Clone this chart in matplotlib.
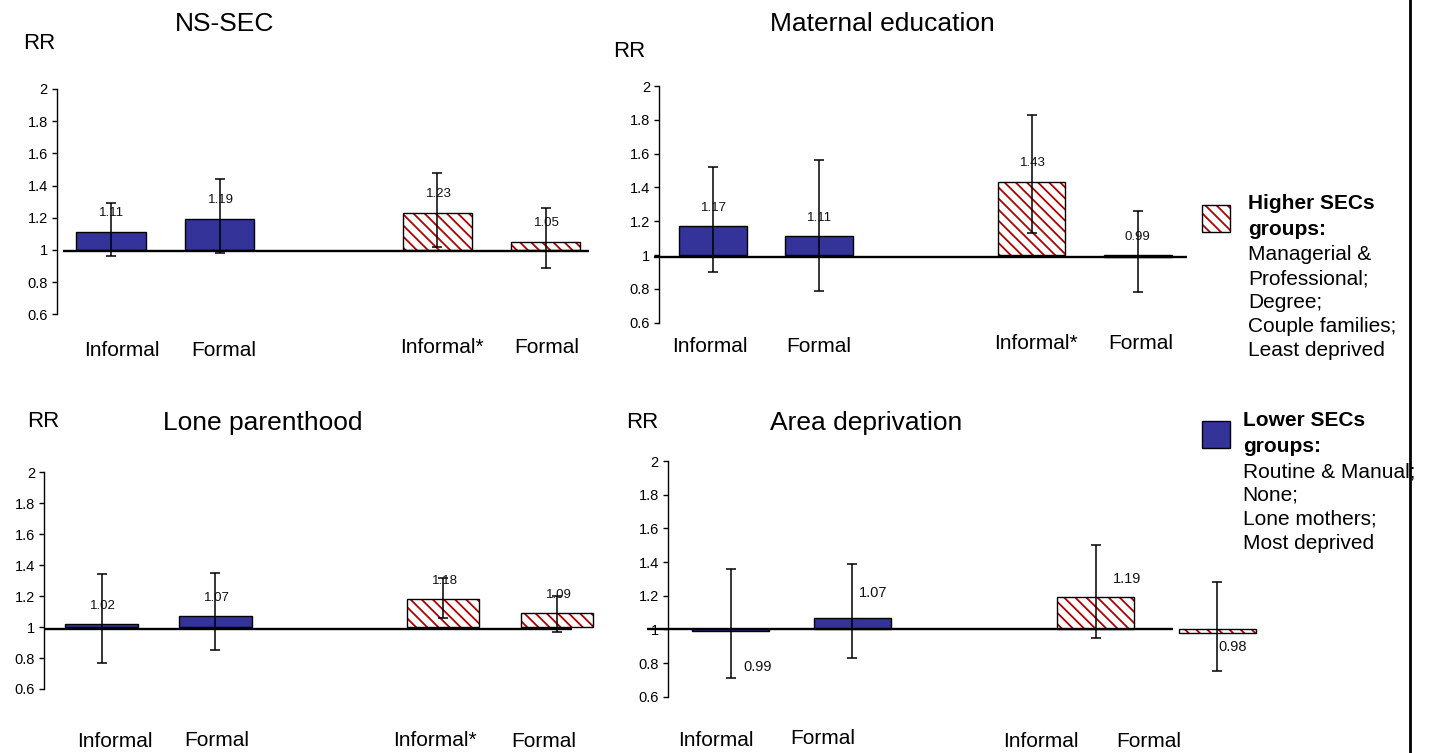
import matplotlib
matplotlib.use('Agg')
import matplotlib.pyplot as plt
from matplotlib.patches import Rectangle
from matplotlib.lines import Line2D
import matplotlib.transforms as mtransforms

plt.rcParams['font.family'] = ['Liberation Sans', 'DejaVu Sans']
plt.rcParams['hatch.linewidth'] = 1.3

# ---------------- data ----------------
panel_titles = ['NS-SEC', 'Maternal education', 'Lone parenthood', 'Area deprivation']
category_labels = [
    ['Informal', 'Formal', 'Informal*', 'Formal'],
    ['Informal', 'Formal', 'Informal*', 'Formal'],
    ['Informal', 'Formal', 'Informal*', 'Formal'],
    ['Informal', 'Formal', 'Informal', 'Formal'],
]
positions = [0, 1, 3, 4]
groups = ['Lower', 'Lower', 'Higher', 'Higher']

rr_nssec = [1.11, 1.19, 1.23, 1.05]
lo_nssec = [0.96, 0.98, 1.02, 0.89]
hi_nssec = [1.29, 1.44, 1.48, 1.26]

rr_mated = [1.17, 1.11, 1.43, 0.99]
lo_mated = [0.90, 0.79, 1.13, 0.78]
hi_mated = [1.52, 1.56, 1.83, 1.26]

rr_lone = [1.02, 1.07, 1.18, 1.09]
lo_lone = [0.77, 0.85, 1.06, 0.97]
hi_lone = [1.34, 1.35, 1.32, 1.20]

rr_area = [0.99, 1.07, 1.19, 0.98]
lo_area = [0.71, 0.83, 0.95, 0.75]
hi_area = [1.36, 1.39, 1.50, 1.28]

yticks = [0.6, 0.8, 1, 1.2, 1.4, 1.6, 1.8, 2]
ytick_labels = ['0.6', '0.8', '1', '1.2', '1.4', '1.6', '1.8', '2']
y_label = 'RR'

legend_higher = [('Higher SECs', 'bold'), ('groups:', 'bold'), ('Managerial &', 'normal'),
                 ('Professional;', 'normal'), ('Degree;', 'normal'),
                 ('Couple families;', 'normal'), ('Least deprived', 'normal')]
legend_lower = [('Lower SECs', 'bold'), ('groups:', 'bold'), ('Routine & Manual;', 'normal'),
                ('None;', 'normal'), ('Lone mothers;', 'normal'), ('Most deprived', 'normal')]

series = [(rr_nssec, lo_nssec, hi_nssec), (rr_mated, lo_mated, hi_mated),
          (rr_lone, lo_lone, hi_lone), (rr_area, lo_area, hi_area)]

# ---------------- layout (pixels) ----------------
W, H, DPI = 1432, 753, 100
BLUE = '#333399'
RED = '#B00000'
HATCH = '\\\\\\'

layouts = [
    dict(axis_x=56.7, y2=89, y06=314.3, c0=111, unit=108.7, right=600,
         base=(62.7, 589, 1.0), title_xy=(224.8, 24), rr_xy=(23.3, 43.3),
         cat_dx=[10.8, 4.2, 4.7, 1.3], cat_y=[350.7, 350.7, 347.3, 347.3],
         val_off=[(0.7, 19), (1.7, 19), (1.7, 18.5), (1, 18.5)], val_fs=9.5),
    dict(axis_x=659, y2=86, y06=322.7, c0=713, unit=106.2, right=1195,
         base=(654.3, 1186.7, 2.3), title_xy=(882.5, 24), rr_xy=(613.3, 51.7),
         cat_dx=[-3, 0, 4, 2.8], cat_y=[346.7, 346.7, 343.3, 343.3],
         val_off=[(1, 18.6), (0.8, 18.1), (1, 19.6), (0, 18.3)], val_fs=9.5),
    dict(axis_x=44, y2=472.3, y06=689, c0=101.5, unit=113.9, right=600,
         base=(45, 571.7, 2.0), title_xy=(262.7, 423.3), rr_xy=(27.3, 421.7),
         cat_dx=[13, 1.3, -8.7, -13], cat_y=[741.7, 740, 740, 741.7],
         val_off=[(1.8, 17.6), (1.6, 18.2), (1.6, 17.8), (2.2, 17.8)], val_fs=9.5),
    dict(axis_x=667.7, y2=461, y06=696.7, c0=730.5, unit=121.7, right=1260,
         base=(646.7, 1173.3, 0.0), title_xy=(866, 423.3), rr_xy=(626, 422.7),
         cat_dx=[-14.7, -29.8, -55, -68.6], cat_y=[740, 738.3, 741.7, 741.7],
         val_off=[(27.5, -37.4), (20.5, 24.2), (31, 18), (15, -17.7)], val_fs=10.5),
]

fig = plt.figure(figsize=(W / DPI, H / DPI), dpi=DPI)
fig.patch.set_facecolor('white')


def fx(p):
    return p / W


def fy(p):
    return 1 - p / H


for L, title, cats, (rr, lo, hi) in zip(layouts, panel_titles, category_labels, series):
    axx, y2, y06, c0, unit, R = L['axis_x'], L['y2'], L['y06'], L['c0'], L['unit'], L['right']
    ax = fig.add_axes([fx(axx), fy(y06), (R - axx) / W, (y06 - y2) / H])
    ax.patch.set_visible(False)
    ax.set_ylim(0.6, 2.0)
    ax.set_xlim((axx - c0) / unit, (R - c0) / unit)
    ppu = (y06 - y2) / 1.4

    def px2x(p, c0=c0, unit=unit):
        return (p - c0) / unit

    for s in ['top', 'right', 'bottom']:
        ax.spines[s].set_visible(False)
    ax.spines['left'].set_linewidth(1.0)
    ax.set_xticks([])
    ax.set_yticks(yticks)
    ax.set_yticklabels(ytick_labels)
    ax.tick_params(axis='y', direction='out', length=3.5, width=1, pad=3, labelsize=10.5)

    bw = 0.635
    for pos, v, g in zip(positions, rr, groups):
        if g == 'Lower':
            ax.bar(pos, v - 1, bottom=1, width=bw, color=BLUE, edgecolor='black',
                   linewidth=1, zorder=2, clip_on=False)
        else:
            ax.bar(pos, v - 1, bottom=1, width=bw, color='white', edgecolor=RED,
                   hatch=HATCH, linewidth=0, zorder=2, clip_on=False)
            ax.bar(pos, v - 1, bottom=1, width=bw, fill=False, edgecolor='black',
                   linewidth=1, zorder=2.1, clip_on=False)

    # baseline at RR = 1
    bx0, bx1, bdy = L['base']
    lvl = 1 - bdy / ppu
    ax.plot([px2x(bx0), px2x(bx1)], [lvl, lvl], color='black', lw=1.7,
            zorder=3, clip_on=False, solid_capstyle='butt')

    yerr = [[v - l for v, l in zip(rr, lo)], [h - v for v, h in zip(rr, hi)]]
    ax.errorbar(positions, rr, yerr=yerr, fmt='none', ecolor='black',
                elinewidth=1.1, capsize=3.3, capthick=1.1, zorder=4, clip_on=False)

    for pos, v, (dx, dy) in zip(positions, rr, L['val_off']):
        tr = mtransforms.offset_copy(ax.transData, fig=fig, x=dx, y=dy, units='dots')
        ax.text(pos, max(v, 1), f'{v:.2f}', transform=tr, ha='center', va='center',
                fontsize=L['val_fs'], color='#111111', zorder=5, clip_on=False)

    blend = mtransforms.blended_transform_factory(ax.transData, fig.transFigure)
    for pos, lab, dx, cy in zip(positions, cats, L['cat_dx'], L['cat_y']):
        ax.text(px2x(pos * unit + c0 + dx), fy(cy), lab, transform=blend,
                ha='center', va='center', fontsize=15, clip_on=False)

    fig.text(fx(L['title_xy'][0]), fy(L['title_xy'][1]), title, ha='center',
             va='center', fontsize=19)
    fig.text(fx(L['rr_xy'][0]), fy(L['rr_xy'][1]), y_label, ha='left',
             va='center', fontsize=16)

# ---------------- legend ----------------
sq_w, sq_h = 28.3, 26.7
fig.patches.append(Rectangle((fx(1201.7), fy(231.7)), sq_w / W, sq_h / H,
                             transform=fig.transFigure, facecolor='white',
                             edgecolor=RED, hatch=HATCH, linewidth=0))
fig.patches.append(Rectangle((fx(1201.7), fy(231.7)), sq_w / W, sq_h / H,
                             transform=fig.transFigure, fill=False,
                             edgecolor='black', linewidth=1))
fig.patches.append(Rectangle((fx(1201.7), fy(448.0)), sq_w / W, sq_h / H,
                             transform=fig.transFigure, facecolor=BLUE,
                             edgecolor='black', linewidth=1))

hi_y = [203.3, 229.3, 255, 279, 302.7, 326.7, 351]
lo_y = [420.7, 446.7, 471.7, 495, 519.3, 543.3]
for (txt, wt), yy in zip(legend_higher, hi_y):
    fig.text(fx(1248.3), fy(yy), txt, ha='left', va='center', fontsize=15, fontweight=wt)
for (txt, wt), yy in zip(legend_lower, lo_y):
    fig.text(fx(1242.7), fy(yy), txt, ha='left', va='center', fontsize=15, fontweight=wt)

# right border line
fig.add_artist(Line2D([fx(1410), fx(1410)], [0, 1], transform=fig.transFigure,
                      color='black', lw=2))

fig.savefig('out.png', dpi=DPI, facecolor='white')
